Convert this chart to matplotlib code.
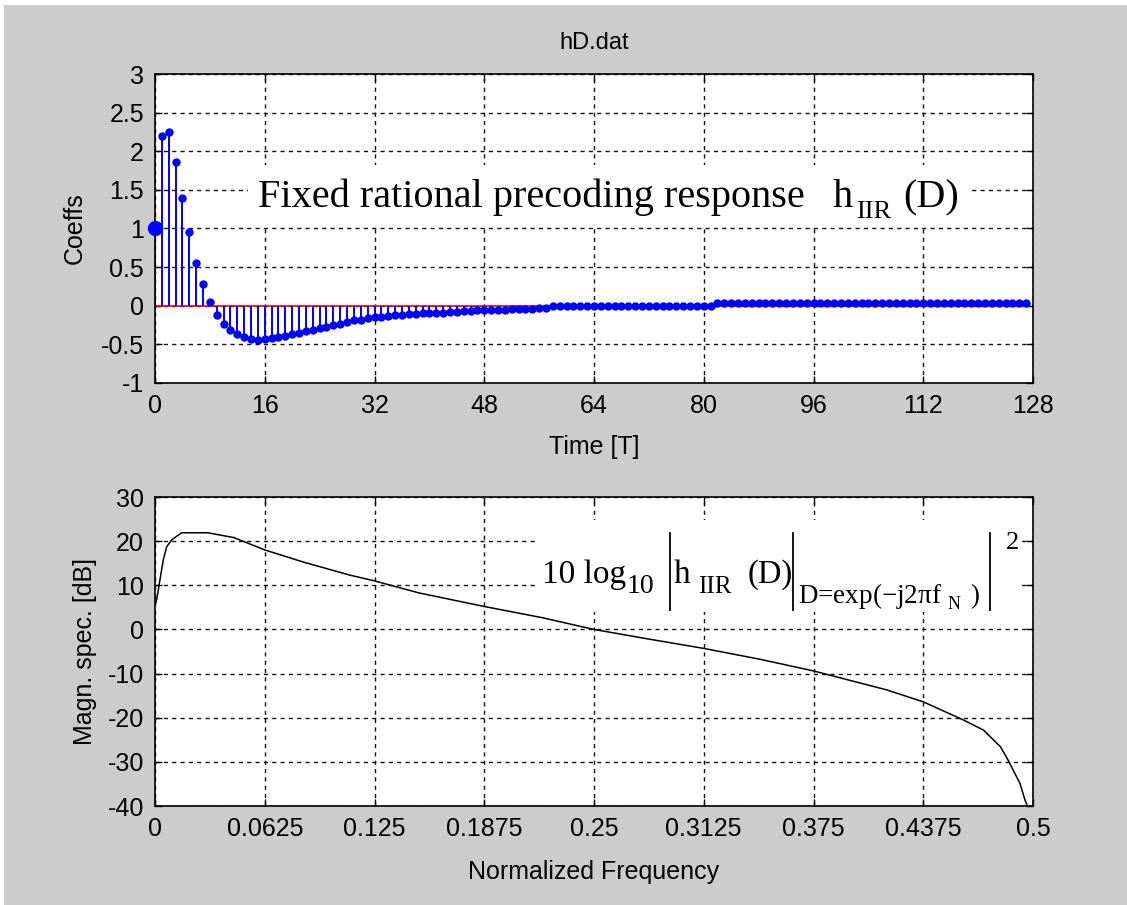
import matplotlib
matplotlib.use('Agg')
import matplotlib.pyplot as plt
from matplotlib.patches import Rectangle
from matplotlib.lines import Line2D

W, H = 1127, 905

# ---------------- data ----------------
sample_index = list(range(128))
coeffs = [1.00, 2.20, 2.25, 1.86, 1.39, 0.95, 0.55, 0.28, 0.05, -0.12,
          -0.23, -0.31, -0.37, -0.41, -0.43, -0.44, -0.43, -0.42, -0.41, -0.39,
          -0.37, -0.35, -0.33, -0.31, -0.29, -0.27, -0.25, -0.23, -0.21, -0.19,
          -0.18, -0.16, -0.15, -0.14, -0.13, -0.12, -0.12, -0.11, -0.11, -0.10,
          -0.10, -0.09, -0.09, -0.08, -0.08, -0.07, -0.07, -0.06, -0.06, -0.055,
          -0.05, -0.05, -0.045, -0.045, -0.04, -0.04, -0.035, -0.035,
          0.0, 0.0, 0.0, 0.0, 0.0, 0.0, 0.0, 0.0, 0.0, 0.0, 0.0, 0.0,
          0.0, 0.0, 0.0, 0.0, 0.0, 0.0, 0.0, 0.0, 0.0, 0.0, 0.0, 0.0,
          0.03, 0.03, 0.03, 0.03, 0.03, 0.03, 0.03, 0.03, 0.03, 0.03,
          0.03, 0.03, 0.03, 0.03, 0.03, 0.03, 0.03, 0.03, 0.03, 0.03,
          0.03, 0.03, 0.03, 0.03, 0.03, 0.03, 0.03, 0.03, 0.03, 0.03,
          0.03, 0.03, 0.03, 0.03, 0.03, 0.03, 0.03, 0.03, 0.03, 0.03,
          0.03, 0.03, 0.03, 0.03, 0.03, 0.03]

freq = [0.0005, 0.0013, 0.0028, 0.0047, 0.0066, 0.0095, 0.0152, 0.030, 0.045,
        0.0626, 0.085, 0.111, 0.125, 0.15, 0.1875, 0.22, 0.25, 0.28, 0.3125,
        0.345, 0.375, 0.4167, 0.4375, 0.4603, 0.4718, 0.4815, 0.4858, 0.4926,
        0.4954, 0.4973]
mag_db = [6.0, 7.5, 11.2, 15.7, 18.7, 20.3, 21.9, 21.9, 20.8,
          18.0, 15.2, 12.3, 11.0, 8.3, 5.2, 2.7, 0.0, -2.1, -4.3,
          -6.8, -9.4, -13.7, -16.4, -20.5, -22.8, -26.6, -29.6, -34.9,
          -38.6, -40.5]

time_ticks = [0, 16, 32, 48, 64, 80, 96, 112, 128]
coef_ticks = [-1, -0.5, 0, 0.5, 1, 1.5, 2, 2.5, 3]
coef_labels = ['-1', '-0.5', '0', '0.5', '1', '1.5', '2', '2.5', '3']
freq_ticks = [0, 0.0625, 0.125, 0.1875, 0.25, 0.3125, 0.375, 0.4375, 0.5]
freq_labels = ['0', '0.0625', '0.125', '0.1875', '0.25', '0.3125', '0.375', '0.4375', '0.5']
db_ticks = [-40, -30, -20, -10, 0, 10, 20, 30]
db_labels = ['-40', '-30', '-20', '-10', '0', '10', '20', '30']

# ---------------- style ----------------
plt.rcParams['font.family'] = ['Liberation Sans', 'DejaVu Sans']
plt.rcParams['axes.unicode_minus'] = False
plt.rcParams['mathtext.fontset'] = 'custom'
plt.rcParams['mathtext.rm'] = 'Liberation Serif'
plt.rcParams['mathtext.it'] = 'Liberation Serif:italic'
plt.rcParams['mathtext.bf'] = 'Liberation Serif:bold'

TICK_FS = 18
SERIF = ['Liberation Serif', 'DejaVu Serif']

fig = plt.figure(figsize=(W / 100, H / 100), dpi=100, facecolor='white')
fig.patches.append(Rectangle((4 / W, 0), 1, 1 - 5 / H, transform=fig.transFigure,
                             facecolor='#cccccc', edgecolor='none', zorder=-10))

ax1 = fig.add_axes([155 / W, 1 - 383 / H, 878 / W, 309 / H])
ax2 = fig.add_axes([155 / W, 1 - 806 / H, 878 / W, 309 / H])

def style_axes(ax):
    ax.set_facecolor('white')
    for s in ax.spines.values():
        s.set_linewidth(1.2)
        s.set_color('black')
    ax.tick_params(direction='in', length=5, width=1.0, top=True, right=True,
                   labelsize=TICK_FS, colors='black', pad=8)
    ax.grid(True, color='#111111', linestyle=(0, (3, 3)), linewidth=1.0)
    ax.set_axisbelow(True)

# ---------------- top: stem ----------------
markerline, stemlines, baseline = ax1.stem(sample_index, coeffs, linefmt='-',
                                            markerfmt='o', basefmt='-')
stemlines.set_color('#0000ff')
stemlines.set_linewidth(1.4)
markerline.set_color('#0000ff')
markerline.set_markersize(5)
baseline.set_color('#ff0000')
baseline.set_linewidth(1.2)
baseline.set_zorder(1.5)
ax1.plot(sample_index[0], coeffs[0], 'o', color='#0000ff', markersize=10,
         zorder=3, clip_on=False)

ax1.set_xlim(0, 128)
ax1.set_ylim(-1, 3)
ax1.set_xticks(time_ticks)
ax1.set_xticklabels([str(t) for t in time_ticks])
ax1.set_yticks(coef_ticks)
ax1.set_yticklabels(coef_labels)
style_axes(ax1)
ax1.set_xlabel('Time [T]', fontsize=TICK_FS, va='center')
ax1.xaxis.set_label_coords(0.5, -0.207)
ax1.set_ylabel('Coeffs', fontsize=TICK_FS, va='center')
ax1.yaxis.set_label_coords(-0.091, 0.5)
ax1.text(0.5, 1.1, 'hD.dat', transform=ax1.transAxes, ha='center', va='center',
         fontsize=TICK_FS - 1)

# ---------------- bottom: magnitude ----------------
ax2.plot(freq, mag_db, color='black', linewidth=1.1)
ax2.set_xlim(0, 0.5)
ax2.set_ylim(-40, 30)
ax2.set_xticks(freq_ticks)
ax2.set_xticklabels(freq_labels)
ax2.set_yticks(db_ticks)
ax2.set_yticklabels(db_labels)
style_axes(ax2)
ax2.set_xlabel('Normalized Frequency', fontsize=TICK_FS, va='center')
ax2.xaxis.set_label_coords(0.5, -0.2136)
ax2.set_ylabel('Magn. spec. [dB]', fontsize=TICK_FS, va='center')
ax2.yaxis.set_label_coords(-0.0797, 0.5)

# ---------------- annotation boxes ----------------
def px(x, y):
    return x / W, 1 - y / H

def white_box(x0, y0, x1, y1):
    fig.patches.append(Rectangle(px(x0, y1), (x1 - x0) / W, (y1 - y0) / H,
                                 transform=fig.transFigure, facecolor='white',
                                 edgecolor='none', zorder=5))

def ftext(x, y, s, size):
    fig.text(*px(x, y), s, fontsize=size, family=SERIF, ha='left',
             va='baseline', zorder=6, color='black')

def vbar(x, y0, y1):
    fig.add_artist(Line2D([x / W, x / W], [1 - y0 / H, 1 - y1 / H],
                          transform=fig.transFigure, color='black',
                          linewidth=1.3, zorder=6))

# top annotation
white_box(248, 165, 968, 225)
ftext(258, 207, 'Fixed rational precoding response', 29)
ftext(833, 207, 'h', 29)
ftext(856, 218, 'IIR', 19)
ftext(903, 207, '(D)', 29)

# bottom annotation
white_box(537, 520, 1022, 612)
ftext(542, 583, '10 log', 24)
ftext(627, 593, '10', 20)
vbar(670, 533, 610)
ftext(674, 583, 'h', 24)
ftext(698, 593, 'IIR', 18)
ftext(748, 583, '(D)', 23.5)
vbar(793, 533, 610)
ftext(798, 603, r'D=exp($-$j2$\mathrm{\pi}$f', 19.5)
ftext(948, 609, 'N', 13)
ftext(970, 603, ')', 19.5)
vbar(990, 533, 610)
ftext(1006, 549, '2', 19)

fig.savefig('out.png', dpi=100, facecolor=fig.get_facecolor())
